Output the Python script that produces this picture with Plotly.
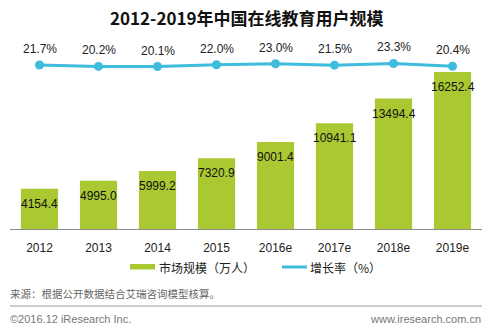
import plotly.graph_objects as go

# Data
years = ["2012", "2013", "2014", "2015", "2016e", "2017e", "2018e", "2019e"]
users = [4154.4, 4995.0, 5999.2, 7320.9, 9001.4, 10941.1, 13494.4, 16252.4]
growth = [21.7, 20.2, 20.1, 22.0, 23.0, 21.5, 23.3, 20.4]

title_text = "2012-2019年中国在线教育用户规模"
bar_name = "市场规模（万人）"
line_name = "增长率（%）"
source_text = "来源：根据公开数据结合艾瑞咨询模型核算。"
copyright_text = "©2016.12 iResearch Inc."
site_text = "www.iresearch.com.cn"

BAR_COLOR = "#A9C832"
LINE_COLOR = "#3DBCDD"
CJK = "Noto Sans CJK SC, Microsoft YaHei, sans-serif"
NUM = "Liberation Sans, Arial, sans-serif"

# figure and plot-area geometry (pixels)
W, H = 493, 329
L, R, T, B = 10, 11, 40, 100
PW = W - L - R
PH = H - T - B


def px(pix):
    """figure pixel x -> paper (plot-area) fraction"""
    return (pix - L) / PW


def py(pix):
    """figure pixel y (from top) -> paper (plot-area) fraction"""
    return (H - B - pix) / PH


fig = go.Figure()

fig.add_trace(go.Bar(
    x=years, y=users, name=bar_name,
    marker=dict(color=BAR_COLOR, line=dict(width=0)),
    showlegend=False, hoverinfo="skip",
))

fig.add_trace(go.Scatter(
    x=years, y=growth, name=line_name, yaxis="y2",
    mode="lines+markers",
    line=dict(color=LINE_COLOR, width=3),
    marker=dict(color=LINE_COLOR, size=9),
    showlegend=False, hoverinfo="skip",
))

annotations = []
# value labels inside the top of each bar
for i, v in enumerate(users):
    annotations.append(dict(
        x=i, y=v, xref="x", yref="y", text=f"{v:.1f}",
        showarrow=False, yanchor="middle", yshift=-15,
        font=dict(family=NUM, size=12, color="#111111"),
    ))
# growth-rate labels above the line
for i, g in enumerate(growth):
    annotations.append(dict(
        x=i, y=g, xref="x", yref="y2", text=f"{g:.1f}%",
        showarrow=False, yanchor="middle", yshift=16,
        font=dict(family=NUM, size=12, color="#222222"),
    ))

# title
annotations.append(dict(
    x=px(W / 2), y=py(17.5), xref="paper", yref="paper", text=f"<b>{title_text}</b>",
    showarrow=False, xanchor="center", yanchor="middle",
    font=dict(family=CJK, size=17, color="#111111"),
))

# custom legend and footer
shapes = [
    dict(type="rect", xref="paper", yref="paper",
         x0=px(130), x1=px(155), y0=py(269.5), y1=py(264),
         fillcolor=BAR_COLOR, line=dict(width=0)),
    dict(type="line", xref="paper", yref="paper",
         x0=px(282), x1=px(307), y0=py(267), y1=py(267),
         line=dict(color=LINE_COLOR, width=3)),
    dict(type="line", xref="paper", yref="paper",
         x0=px(10), x1=px(482), y0=py(306), y1=py(306),
         line=dict(color="#9a9a9a", width=1)),
]
annotations += [
    dict(x=px(157), y=py(267), xref="paper", yref="paper", text=bar_name,
         showarrow=False, xanchor="left", yanchor="middle",
         font=dict(family=CJK, size=12, color="#222222")),
    dict(x=px(308), y=py(267), xref="paper", yref="paper", text=line_name,
         showarrow=False, xanchor="left", yanchor="middle",
         font=dict(family=CJK, size=12, color="#222222")),
    dict(x=px(8), y=py(293), xref="paper", yref="paper", text=source_text,
         showarrow=False, xanchor="left", yanchor="middle",
         font=dict(family=CJK, size=10.5, color="#666666")),
    dict(x=px(8), y=py(319), xref="paper", yref="paper", text=copyright_text,
         showarrow=False, xanchor="left", yanchor="middle",
         font=dict(family=NUM, size=11, color="#777777")),
    dict(x=px(483), y=py(319), xref="paper", yref="paper", text=site_text,
         showarrow=False, xanchor="right", yanchor="middle",
         font=dict(family=NUM, size=11, color="#777777")),
]

fig.update_layout(
    width=W, height=H,
    margin=dict(l=L, r=R, t=T, b=B, pad=0),
    paper_bgcolor="white", plot_bgcolor="white",
    bargap=0.37,
    xaxis=dict(
        type="category", range=[-0.5, 7.5],
        showline=True, linecolor="#8a8a8a", linewidth=1,
        showgrid=False, zeroline=False, ticks="",
        ticklabelstandoff=8,
        tickfont=dict(family=NUM, size=12, color="#222222"),
    ),
    yaxis=dict(range=[0, 19560], visible=False, showgrid=False, zeroline=False),
    yaxis2=dict(range=[-150.9, 48.0], overlaying="y", visible=False,
                showgrid=False, zeroline=False),
    annotations=annotations,
    shapes=shapes,
)

fig.write_html("out.html")
